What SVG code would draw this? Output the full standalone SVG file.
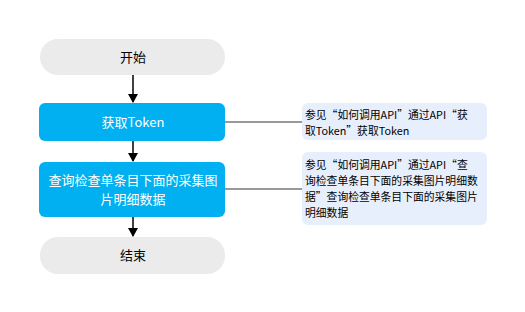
<svg xmlns="http://www.w3.org/2000/svg" width="525" height="312" viewBox="0 0 525 312">
<defs>
<style>
.term{fill:#ebebeb;}
.proc{fill:#00b0f0;}
.note{fill:#e8effc;}
.tb{font-family:"Noto Sans CJK SC","Noto Sans",sans-serif;font-size:13px;fill:#000;text-anchor:middle;}
.tw{font-family:"Noto Sans CJK SC","Noto Sans",sans-serif;font-size:13px;fill:#fff;text-anchor:middle;}
.tn{font-family:"Noto Sans CJK SC","Noto Sans",sans-serif;font-size:10.8px;fill:#000;}
.arr{stroke:#000;stroke-width:1.5;fill:none;marker-end:url(#ah);}
.ln{stroke:#999;stroke-width:2;fill:none;}
</style>
<marker id="ah" markerWidth="10" markerHeight="10" refX="8" refY="5" orient="auto" markerUnits="userSpaceOnUse">
<path d="M0,0 L9,5 L0,10 Z" fill="#000"/>
</marker>
</defs>
<rect width="525" height="312" fill="#fff"/>
<g id="connectors">
<line class="arr" x1="133" y1="75" x2="133" y2="102"/>
<line class="arr" x1="133" y1="141" x2="133" y2="161"/>
<line class="arr" x1="133" y1="217" x2="133" y2="236"/>
<line class="ln" x1="225" y1="122" x2="302" y2="122"/>
<line class="ln" x1="225" y1="189" x2="302" y2="189"/>
</g>
<g id="start">
<rect class="term" x="40" y="39" width="185" height="36" rx="18"/>
<text class="tb" x="133" y="62">开始</text>
</g>
<g id="token">
<rect class="proc" x="39" y="103" width="186" height="38" rx="6"/>
<text class="tw" x="133" y="127">获取Token</text>
</g>
<g id="query">
<rect class="proc" x="39" y="162" width="186" height="55" rx="6"/>
<text class="tw" x="133" y="185">查询检查单条目下面的采集图</text>
<text class="tw" x="133" y="204">片明细数据</text>
</g>
<g id="end">
<rect class="term" x="40" y="237" width="185" height="37" rx="18"/>
<text class="tb" x="133" y="260">结束</text>
</g>
<g id="note1">
<rect class="note" x="302" y="103" width="185" height="37" rx="6"/>
<text class="tn" x="305" y="119">参见“如何调用API”通过API“获</text>
<text class="tn" x="305" y="135">取Token”获取Token</text>
</g>
<g id="note2">
<rect class="note" x="302" y="152" width="185" height="73" rx="6"/>
<text class="tn" x="305" y="169">参见“如何调用API”通过API“查</text>
<text class="tn" x="305" y="185">询检查单条目下面的采集图片明细数</text>
<text class="tn" x="305" y="201">据”查询检查单条目下面的采集图片</text>
<text class="tn" x="305" y="217">明细数据</text>
</g>
</svg>
